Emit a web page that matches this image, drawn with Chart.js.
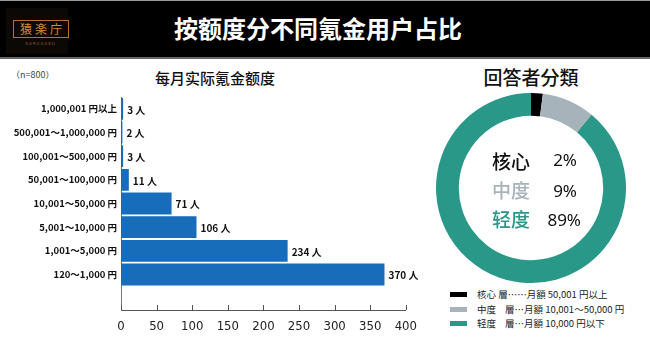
<!DOCTYPE html>
<html>
<head>
<meta charset="utf-8">
<script src="https://cdn.jsdelivr.net/npm/chart.js@4"></script>
<style>
  body { margin: 0; width: 650px; height: 346px; background: #fff; position: relative; overflow: hidden;
         font-family: "Noto Sans CJK JP", "Noto Sans", sans-serif; }
  .abs { position: absolute; white-space: nowrap; }
  #head { left: 0; top: 0; width: 650px; height: 56px; background: #000; border-top: 1px solid #999; border-bottom: 2px solid #666; }
  #logo { left: 6px; top: 8px; width: 62px; height: 46px; background: #0b0806; }
  #logobox { left: 13px; top: 20px; width: 54px; height: 16px; border: 1px solid #b8702c; color: #d98a36;
             font: 12px/16px "Noto Sans CJK JP"; text-align: center; letter-spacing: 3px; text-indent: 3px; }
  #logosub { left: 13px; top: 41px; width: 55px; text-align: center; color: #9a5c24; font: 4px/5px "DejaVu Sans"; letter-spacing: 1px; }
  #title { left: 0; top: 11px; width: 636px; text-align: center; color: #fff; font: bold 24px/34px "Noto Sans CJK SC"; }
  #n { left: 11px; top: 69px; font: 9px/12px "Noto Sans CJK JP"; color: #444; }
  #bt { left: 100px; top: 67px; width: 230px; text-align: center; font: 500 15px/22px "Noto Sans CJK SC"; color: #111; }
  #dt { left: 431px; top: 64px; width: 200px; text-align: center; font: 500 19px/26px "Noto Sans CJK JP"; color: #111; }
  .cl { font: 500 19px/26px "Noto Sans CJK SC"; }
  .cp { font: 17px/26px "Noto Sans", sans-serif; color: #111; text-align: right; width: 40px; }
  .lg { font: 9.5px/12px "Noto Sans CJK JP"; color: #222; }
  .sw { width: 17px; height: 5px; }
</style>
</head>
<body>
<div id="head" class="abs"></div>
<div id="logo" class="abs"></div>
<div id="logobox" class="abs">猿楽庁</div>
<div id="logosub" class="abs">SARUGAKU</div>
<div id="title" class="abs">按额度分不同氪金用户占比</div>

<div id="n" class="abs">（n=800）</div>
<div id="bt" class="abs">每月实际氪金额度</div>
<canvas id="bar" class="abs" style="left:0;top:60px" width="426" height="286"></canvas>

<div id="dt" class="abs">回答者分類</div>
<canvas id="pie" class="abs" style="left:436px;top:93px" width="190" height="190"></canvas>

<div class="abs cl" style="left:492px;top:148px;color:#111">核心</div>
<div class="abs cp" style="left:537px;top:147px">2%</div>
<div class="abs cl" style="left:492px;top:177px;color:#a7b3ba">中度</div>
<div class="abs cp" style="left:537px;top:178px">9%</div>
<div class="abs cl" style="left:492px;top:206px;color:#2a9888">轻度</div>
<div class="abs cp" style="left:541px;top:207px">89%</div>

<div class="abs sw" style="left:450px;top:292px;background:#000"></div>
<div class="abs lg" style="left:477px;top:288px">核心 層……月額 50,001 円以上</div>
<div class="abs sw" style="left:450px;top:307px;background:#a7b3ba"></div>
<div class="abs lg" style="left:477px;top:303px">中度</div>
<div class="abs lg" style="left:505px;top:303px">層…月額 10,001～50,000 円</div>
<div class="abs sw" style="left:450px;top:321px;background:#2a9888"></div>
<div class="abs lg" style="left:477px;top:317px">轻度</div>
<div class="abs lg" style="left:505px;top:317px">層…月額 10,000 円以下</div>

<script>
// 每月实际氪金额度 (n=800)
const categories = ['1,000,001 円以上', '500,001～1,000,000 円', '100,001～500,000 円', '50,001～100,000 円',
  '10,001～50,000 円', '5,001～10,000 円', '1,001～5,000 円', '120～1,000 円'];
const counts = [3, 2, 3, 11, 71, 106, 234, 370];
const xTicks = [0, 50, 100, 150, 200, 250, 300, 350, 400];

// 回答者分類
const groups = ['核心', '中度', '轻度'];
const shares = [2, 9, 89];
const groupColors = ['#000000', '#a7b3ba', '#2a9888'];

const barColor = '#176dba';

// value labels "N 人" after each bar
const valueLabels = {
  id: 'valueLabels',
  afterDatasetsDraw(chart) {
    const ctx = chart.ctx;
    const meta = chart.getDatasetMeta(0);
    ctx.save();
    ctx.font = 'bold 10px "Noto Sans CJK JP"';
    ctx.fillStyle = '#111';
    ctx.textBaseline = 'middle';
    meta.data.forEach((bar, i) => {
      if (counts[i] == null) return;
      ctx.fillText(counts[i] + ' 人', bar.x + 4, bar.y + 1);
    });
    ctx.restore();
  }
};

// tick marks pointing up into the plot
const upTicks = {
  id: 'upTicks',
  afterDraw(chart) {
    const ctx = chart.ctx;
    const x = chart.scales.x;
    ctx.save();
    ctx.strokeStyle = '#555';
    ctx.lineWidth = 1;
    xTicks.forEach(v => {
      const px = Math.round(x.getPixelForValue(v)) + 0.5;
      ctx.beginPath();
      ctx.moveTo(px, x.top - 5);
      ctx.lineTo(px, x.top);
      ctx.stroke();
    });
    ctx.restore();
  }
};

new Chart(document.getElementById('bar'), {
  type: 'bar',
  data: {
    labels: [...categories, ''],
    datasets: [{
      data: [...counts, null],
      backgroundColor: barColor,
      barPercentage: 0.92,
      categoryPercentage: 1
    }]
  },
  options: {
    indexAxis: 'y',
    responsive: false,
    animation: false,
    layout: { padding: { top: 37, right: 16, left: 0, bottom: 0 } },
    plugins: { legend: { display: false }, tooltip: { enabled: false } },
    scales: {
      x: {
        min: 0, max: 400,
        afterFit: s => { s.height = 36; },
        afterBuildTicks: s => { s.ticks = xTicks.map(v => ({ value: v })); },
        grid: { display: false, drawTicks: false },
        border: { display: true, color: '#555', width: 1 },
        ticks: { padding: 9, color: '#222', font: { family: '"DejaVu Sans Condensed", "Liberation Sans Narrow", sans-serif', size: 13 } }
      },
      y: {
        afterFit: s => { s.width = 121; },
        grid: { display: false, drawTicks: false },
        border: { display: true, color: '#777', width: 1 },
        ticks: { padding: 4, color: '#111', font: { family: '"Noto Sans CJK JP"', size: 9.5, weight: 'bold' } }
      }
    }
  },
  plugins: [valueLabels, upTicks]
});

new Chart(document.getElementById('pie'), {
  type: 'doughnut',
  data: {
    labels: groups,
    datasets: [{ data: shares, backgroundColor: groupColors, borderWidth: 0 }]
  },
  options: {
    responsive: false,
    animation: false,
    cutout: '76%',
    plugins: { legend: { display: false }, tooltip: { enabled: false } }
  }
});
</script>
</body>
</html>
